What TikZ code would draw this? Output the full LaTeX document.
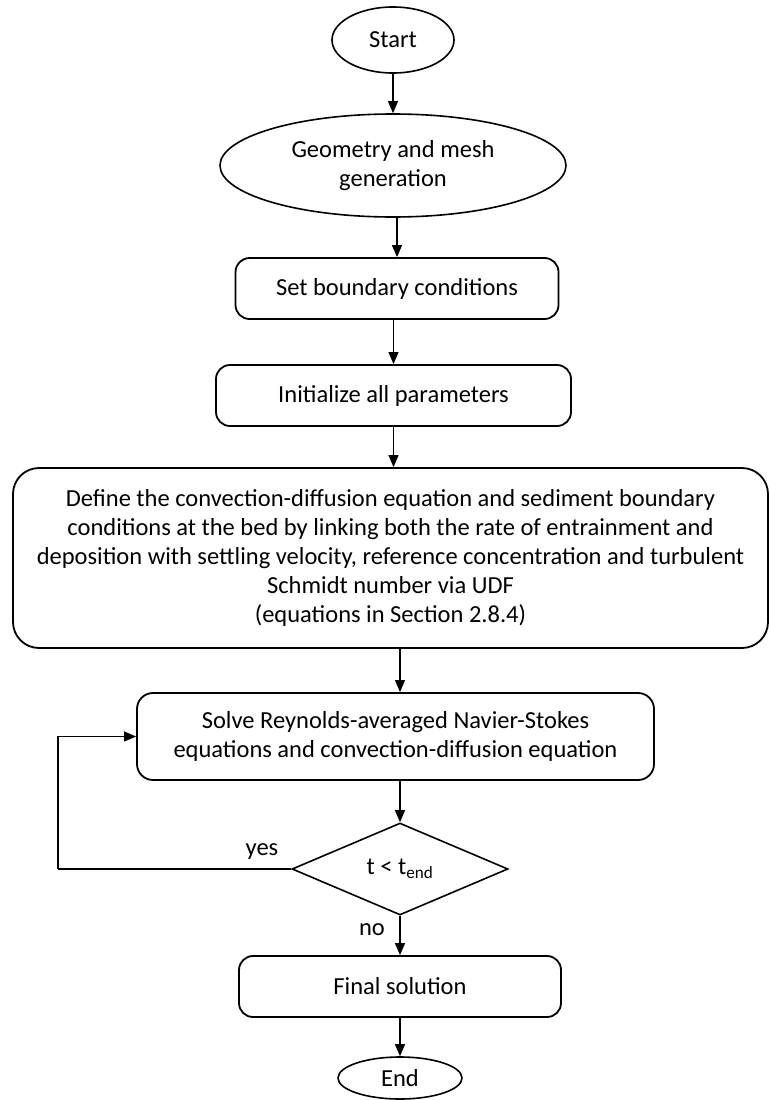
\documentclass[tikz,border=0pt]{standalone}
\usepackage{fontspec}
\setmainfont{Carlito}
\usetikzlibrary{shapes.geometric,arrows.meta}
\begin{document}
\begin{tikzpicture}[x=1pt,y=-1pt,
  every node/.style={font=\fontsize{24.5}{29}\selectfont, align=center, inner sep=0pt},
  term/.style={draw, ellipse, line width=1.6pt},
  proc/.style={draw, rectangle, rounded corners=14pt, line width=1.8pt},
  dec/.style={draw, diamond, line width=1.6pt},
  arr/.style={-{Triangle[length=12pt,width=10pt]}, line width=1.1pt},
  lab/.style={font=\fontsize{24.5}{29}\selectfont}]
\useasboundingbox (0,0) rectangle (770,1100);
\node[term, minimum width=122pt, minimum height=66pt] (start) at (393,40) {Start};
\node[term, minimum width=346pt, minimum height=103pt] (geom) at (393,165.5) {Geometry and mesh\\generation};
\node[proc, minimum width=323pt, minimum height=61pt] (bc) at (397,288.5) {Set boundary conditions};
\node[proc, minimum width=355pt, minimum height=61pt] (init) at (393.5,395.5) {Initialize all parameters};
\node[proc, rounded corners=26pt, minimum width=755pt, minimum height=180pt] (def) at (390.5,558) {Define the convection-diffusion equation and sediment boundary\\conditions at the bed by linking both the rate of entrainment and\\deposition with settling velocity, reference concentration and turbulent\\Schmidt number via UDF\\(equations in Section 2.8.4)};
\node[proc, rounded corners=16pt, minimum width=517pt, minimum height=87pt] (solve) at (395.5,736.5) {Solve Reynolds-averaged Navier-Stokes\\equations and convection-diffusion equation};
\node[dec, minimum width=216pt, minimum height=92pt] (cond) at (400,869) {t < t\textsubscript{end}};
\node[proc, minimum width=322pt, minimum height=61pt] (final) at (400,986.5) {Final solution};
\node[term, minimum width=124pt, minimum height=42pt] (end) at (400,1078) {End};
\coordinate (lp) at (58,869);
\draw[arr] (start.south) -- (geom.north);
\draw[arr] (bc.north |- geom.south) -- (bc.north);
\draw[arr] (init.north |- bc.south) -- (init.north);
\draw[arr] (init.south) -- (init.south |- def.north);
\draw[arr] (cond.north |- def.south) -- (cond.north |- solve.north);
\draw[arr] (cond.north |- solve.south) -- (cond.north);
\draw[arr] (cond.south) -- (final.north);
\draw[arr] (final.south) -- (end.north);
\draw[line width=1.1pt] (cond.west) -- (lp);
\draw[arr] (lp) |- (solve.west);
\node[lab] (yes) at (262,852) {yes};
\node[lab] (no) at (372,930) {no};
\end{tikzpicture}
\end{document}
